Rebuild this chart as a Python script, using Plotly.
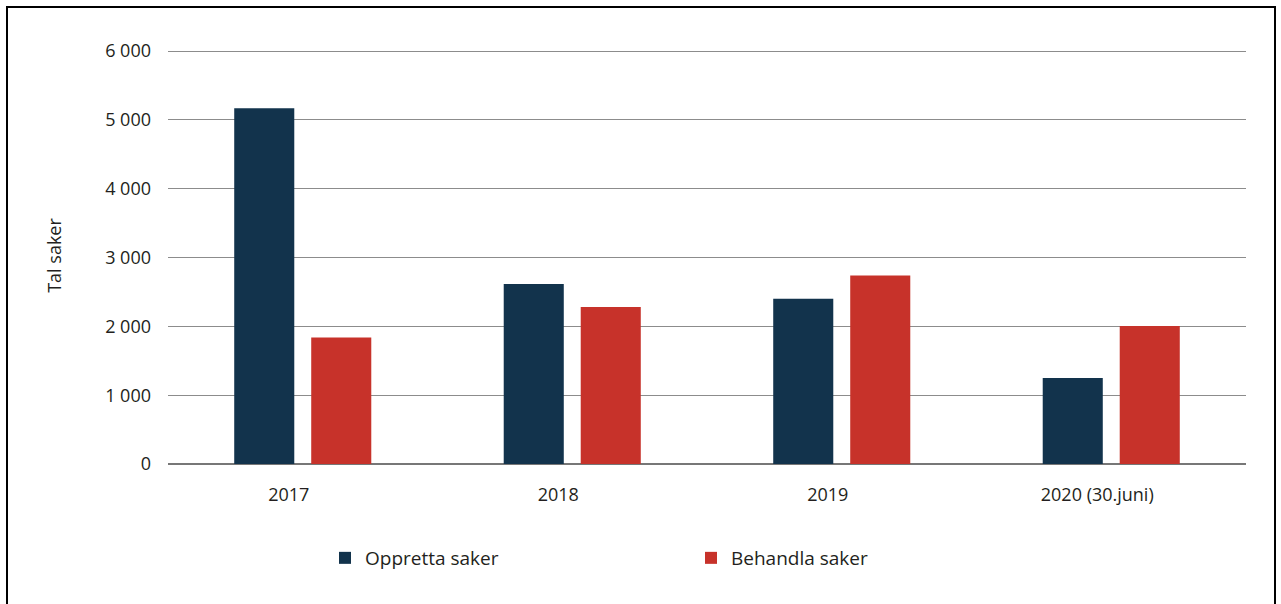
import plotly.graph_objects as go

categories = ["2017", "2018", "2019", "2020 (30.juni)"]
oppretta = [5170, 2615, 2400, 1250]
behandla = [1840, 2280, 2740, 2005]
y_ticks = [0, 1000, 2000, 3000, 4000, 5000, 6000]

FONT = "Open Sans"
fig = go.Figure()
fig.add_trace(go.Bar(x=categories, y=oppretta, name="Oppretta saker",
                     marker=dict(color="#12334c", line=dict(width=0))))
fig.add_trace(go.Bar(x=categories, y=behandla, name="Behandla saker",
                     marker=dict(color="#c7322a", line=dict(width=0))))

W, H = 1281, 604
L, R, T, B = 168, 35, 47, 140
pw, ph = W - L - R, H - T - B

def px(xp):
    return (xp - L) / pw

def py(yp):
    return (H - B - yp) / ph

fig.update_layout(
    width=W, height=H,
    margin=dict(l=L, r=R, t=T, b=B),
    paper_bgcolor="white", plot_bgcolor="white",
    barmode="group", bargap=0.4286, bargroupgap=0.22,
    separators=", ",
    font=dict(family=FONT, size=18, color="#231f20"),
    xaxis=dict(showgrid=False, showline=False, ticks="", zeroline=False,
               ticklabelstandoff=18, ticklabelshift=-14,
               tickfont=dict(size=18)),
    yaxis=dict(range=[0, 6060], tickvals=y_ticks, tickformat=",d",
               showgrid=True, gridcolor="#8c8c8c", gridwidth=1,
               zeroline=True, zerolinecolor="#777777", zerolinewidth=1.5,
               showline=False, ticks="", ticklabelstandoff=16,
               tickfont=dict(size=18),
               title=dict(text="Tal saker", font=dict(size=18), standoff=38)),
    legend=dict(orientation="h", x=px(325), xanchor="left",
                y=py(558), yanchor="middle",
                entrywidth=321, entrywidthmode="pixels",
                font=dict(size=19), itemsizing="constant"),
    shapes=[dict(type="rect", xref="paper", yref="paper",
                 x0=px(7), x1=px(1275), y0=py(620), y1=py(7),
                 line=dict(color="black", width=2), fillcolor="rgba(0,0,0,0)",
                 layer="below")],
)

fig.write_html("out.html", config={"displayModeBar": False},
               post_script="document.body.style.margin='0';document.body.style.padding='0';")
